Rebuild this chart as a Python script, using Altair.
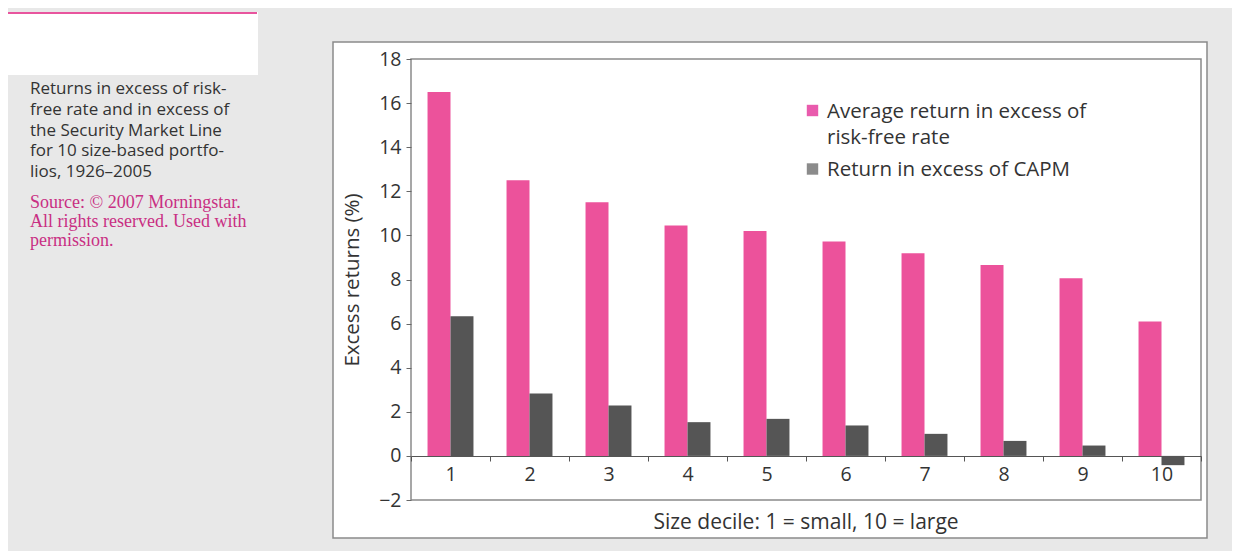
import textwrap
import altair as alt
import pandas as pd

# ---------------- data ----------------
deciles = ["1", "2", "3", "4", "5", "6", "7", "8", "9", "10"]
avg_excess = [16.5, 12.5, 11.5, 10.45, 10.2, 9.72, 9.19, 8.66, 8.06, 6.1]
capm_excess = [6.33, 2.83, 2.29, 1.53, 1.68, 1.38, 1.0, 0.68, 0.47, -0.42]
series = ["Average return in excess of risk-free rate", "Return in excess of CAPM"]
y_ticks = [-2, 0, 2, 4, 6, 8, 10, 12, 14, 16, 18]
caption_lines = [
    "Returns in excess of risk-",
    "free rate and in excess of",
    "the Security Market Line",
    "for 10 size-based portfo-",
    "lios, 1926\u20132005",
]
source_lines = [
    "Source: \u00a9 2007 Morningstar.",
    "All rights reserved. Used with",
    "permission.",
]
y_title = "Excess returns (%)"
x_title = "Size decile: 1 = small, 10 = large"

# ---------------- styles ----------------
bar_colors = ["#ec529b", "#555555"]
legend_colors = ["#e0168a", "#5a5a5a"]
FONT = "Open Sans"
TXT = "#333333"
PINK_TXT = "#c92f83"
W, H = 790, 441

df = pd.DataFrame({
    "decile": deciles * 2,
    "series": [series[0]] * len(deciles) + [series[1]] * len(deciles),
    "value": avg_excess + capm_excess,
})
one = pd.DataFrame({"k": [0]})

# decorations
outer_box = alt.Chart(one).mark_rect(fill="white", stroke="#8a8a8a", strokeWidth=1.5).encode(
    x=alt.value(-78), x2=alt.value(796), y=alt.value(-17), y2=alt.value(479))
corner_box = alt.Chart(one).mark_rect(fill="white").encode(
    x=alt.value(-403), x2=alt.value(-153), y=alt.value(-47), y2=alt.value(16))
corner_line = alt.Chart(one).mark_rect(fill="#e8559e").encode(
    x=alt.value(-403), x2=alt.value(-154), y=alt.value(-47), y2=alt.value(-45))
frame = alt.Chart(one).mark_rect(fill=None, stroke="#8a8a8a", strokeWidth=1.5).encode(
    x=alt.value(0), x2=alt.value(W), y=alt.value(0), y2=alt.value(H))

bars = alt.Chart(df).mark_bar().encode(
    x=alt.X("decile:N", sort=deciles,
            scale=alt.Scale(paddingInner=0, paddingOuter=0),
            axis=alt.Axis(title=None, labelAngle=0, offset=-44, tickBand="extent",
                          labelFontSize=19.5, labelColor=TXT, labelFont=FONT,
                          labelPadding=4, tickSize=5, tickColor="#555555",
                          domainColor="#555555", domainWidth=1.2, zindex=1)),
    xOffset=alt.XOffset("series:N", sort=series,
                        scale=alt.Scale(paddingInner=0, paddingOuter=0.72)),
    y=alt.Y("value:Q", scale=alt.Scale(domain=[-2, 18], nice=False),
            axis=alt.Axis(values=y_ticks, title=y_title, grid=False, domain=False,
                          labelFontSize=19.5, labelColor=TXT, labelFont=FONT,
                          tickSize=5, tickColor="#666666", labelPadding=5,
                          titleFont=FONT, titleFontSize=20.5, titleFontWeight="normal",
                          titleColor=TXT, titleX=-59, titleY=H / 2, titleAngle=-90,
                          titleAlign="center", titleBaseline="middle", zindex=1)),
    color=alt.Color("series:N", sort=series,
                    scale=alt.Scale(domain=series, range=bar_colors), legend=None),
)

# manual legend
leg_sq1 = alt.Chart(one).mark_square(size=130, color=legend_colors[0]).encode(
    x=alt.value(401.5), y=alt.value(51.5))
leg_sq2 = alt.Chart(one).mark_square(size=130, color=legend_colors[1]).encode(
    x=alt.value(401.5), y=alt.value(110))
leg_t1 = alt.Chart(one).mark_text(align="left", baseline="alphabetic", font=FONT,
                                  fontSize=20.5, color=TXT, lineHeight=26).encode(
    x=alt.value(416), y=alt.value(59), text=alt.value(textwrap.wrap(series[0], 27)))
leg_t2 = alt.Chart(one).mark_text(align="left", baseline="alphabetic", font=FONT,
                                  fontSize=20.5, color=TXT).encode(
    x=alt.value(416), y=alt.value(116.5), text=alt.value(series[1]))

x_title_txt = alt.Chart(one).mark_text(align="center", baseline="middle", font=FONT,
                                       fontSize=21, color=TXT).encode(
    x=alt.value(W / 2), y=alt.value(464), text=alt.value(x_title))

caption = alt.Chart(one).mark_text(align="left", baseline="alphabetic", font=FONT,
                                   fontSize=17, color=TXT, lineHeight=20.8).encode(
    x=alt.value(-381), y=alt.value(35), text=alt.value(caption_lines))
source = alt.Chart(one).mark_text(align="left", baseline="alphabetic",
                                  font="Liberation Serif", fontSize=18,
                                  color=PINK_TXT, lineHeight=19).encode(
    x=alt.value(-381), y=alt.value(149), text=alt.value(source_lines))

chart = alt.layer(
    outer_box, corner_box, corner_line, frame, bars,
    leg_sq1, leg_sq2, leg_t1, leg_t2, x_title_txt, caption, source,
).properties(
    width=W, height=H,
    background="#e8e8e8",
    padding={"left": 403, "top": 51, "right": 31, "bottom": 51},
    autosize=alt.AutoSizeParams(type="none"),
).configure_view(stroke=None)

chart.save("out.html", embed_options={"renderer": "svg", "actions": False})
